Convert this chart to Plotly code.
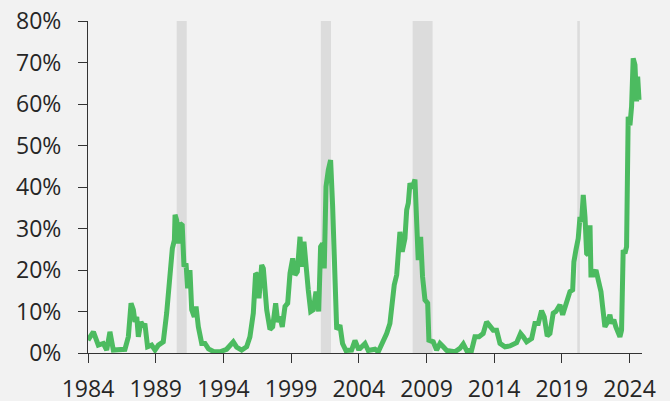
import plotly.graph_objects as go

# Decimal year positions and values (%)
years = [1984.0, 1984.4, 1984.76, 1985.13, 1985.38, 1985.62, 1985.87, 1986.24, 1986.73, 1986.98,
         1987.18, 1987.35, 1987.47, 1987.6, 1987.72, 1987.91, 1988.09, 1988.2, 1988.4, 1988.7,
         1988.95, 1989.2, 1989.56, 1989.81, 1990.06, 1990.23, 1990.38, 1990.43, 1990.55, 1990.67,
         1990.8, 1990.96, 1991.09, 1991.24, 1991.36, 1991.53, 1991.66, 1991.85, 1991.98, 1992.15,
         1992.4, 1992.64, 1992.9, 1993.3, 1993.75, 1994.24, 1994.73, 1994.98, 1995.35, 1995.72,
         1995.96, 1996.21, 1996.38, 1996.53, 1996.63, 1996.83, 1996.95, 1997.2, 1997.44, 1997.64,
         1997.86, 1998.01, 1998.18, 1998.35, 1998.55, 1998.75, 1998.92, 1999.12, 1999.29, 1999.46,
         1999.66, 1999.78, 1999.95, 2000.1, 2000.27, 2000.45, 2000.64, 2000.84, 2001.04, 2001.18,
         2001.33, 2001.45, 2001.58, 2001.75, 2001.92, 2002.07, 2002.24, 2002.37, 2002.61, 2002.8,
         2003.05, 2003.47, 2003.72, 2003.96, 2004.09, 2004.46, 2004.7, 2005.2, 2005.44, 2005.69,
         2006.06, 2006.3, 2006.43, 2006.62, 2006.8, 2006.92, 2007.04, 2007.21, 2007.41, 2007.54,
         2007.66, 2007.78, 2007.95, 2008.15, 2008.27, 2008.39, 2008.57, 2008.71, 2008.89, 2009.09,
         2009.18, 2009.5, 2009.75, 2010.0, 2010.24, 2010.49, 2011.1, 2011.47, 2011.72, 2011.97,
         2012.33, 2012.58, 2012.88, 2013.19, 2013.44, 2013.69, 2013.93, 2014.18, 2014.43, 2014.8,
         2015.17, 2015.66, 2015.95, 2016.15, 2016.4, 2016.77, 2017.01, 2017.26, 2017.5, 2017.7,
         2017.92, 2018.12, 2018.36, 2018.56, 2018.86, 2019.06, 2019.23, 2019.47, 2019.6, 2019.8,
         2019.89, 2020.04, 2020.21, 2020.34, 2020.46, 2020.58, 2020.71, 2020.83, 2020.95, 2021.08,
         2021.15, 2021.32, 2021.52, 2021.69, 2021.89, 2022.01, 2022.18, 2022.35, 2022.55, 2022.67,
         2022.84, 2022.99, 2023.16, 2023.29, 2023.41, 2023.53, 2023.66, 2023.78, 2023.9, 2024.03,
         2024.15, 2024.27, 2024.4, 2024.52, 2024.6, 2024.7]
values = [3.1, 5.1, 1.9, 2.3, 0.7, 5.1, 0.7, 0.7, 0.9, 3.9,
          12.0, 10.4, 7.5, 8.7, 3.9, 7.5, 6.3, 7.1, 1.5, 1.9,
          0.7, 1.9, 2.7, 9.6, 20.8, 25.2, 27.2, 33.3, 32.0, 26.4,
          31.2, 30.8, 20.8, 21.6, 15.6, 20.0, 10.4, 8.7, 11.2, 6.3,
          2.3, 2.3, 1.0, 0.3, 0.3, 0.9, 2.7, 1.4, 0.7, 1.5,
          3.9, 9.6, 19.2, 18.8, 13.2, 21.2, 20.4, 10.4, 5.7, 6.3,
          12.0, 7.5, 8.7, 6.3, 11.2, 12.0, 19.2, 22.8, 18.8, 19.6,
          28.0, 20.8, 26.8, 19.2, 15.2, 10.0, 10.4, 14.8, 10.0, 25.6,
          26.4, 20.4, 40.1, 44.1, 46.5, 35.3, 19.2, 5.7, 6.7, 2.3,
          0.6, 0.7, 3.0, 1.1, 1.1, 2.3, 0.6, 0.9, 0.3, 1.9,
          4.7, 7.1, 12.0, 16.4, 18.8, 27.2, 29.2, 24.4, 27.6, 34.5,
          36.1, 40.9, 39.7, 41.8, 34.5, 22.4, 28.0, 18.4, 12.8, 12.0,
          3.1, 2.7, 0.7, 2.3, 1.5, 0.6, 0.3, 1.1, 2.2, 0.6,
          0.6, 3.9, 3.9, 4.7, 7.5, 6.3, 5.5, 5.5, 2.3, 1.5,
          1.7, 2.5, 4.7, 3.9, 2.7, 3.5, 7.1, 7.1, 10.2, 8.7,
          4.1, 4.7, 9.6, 10.0, 11.6, 9.2, 11.2, 13.6, 14.8, 15.2,
          22.0, 24.8, 27.6, 32.8, 31.6, 38.1, 32.8, 24.0, 23.6, 30.8,
          18.8, 18.8, 20.0, 17.6, 14.8, 11.2, 6.3, 7.3, 9.2, 7.1,
          8.0, 6.3, 4.7, 3.9, 5.5, 24.8, 24.0, 25.6, 56.9, 54.9,
          59.4, 71.0, 69.4, 60.6, 66.6, 61.0]

# Recession periods (shaded)
rec_start = [1990.55, 2001.2, 2007.98, 2020.14]
rec_end = [1991.29, 2001.95, 2009.45, 2020.33]

x_ticks = [1984, 1989, 1994, 1999, 2004, 2009, 2014, 2019, 2024]
y_ticks = [0, 10, 20, 30, 40, 50, 60, 70, 80]

fig = go.Figure()
fig.add_trace(go.Scatter(x=years, y=values, mode="lines",
                         line=dict(color="#4cbb60", width=5),
                         hoverinfo="skip", showlegend=False))

for s, e in zip(rec_start, rec_end):
    fig.add_shape(type="rect", xref="x", yref="paper", x0=s, x1=e, y0=0, y1=1,
                  fillcolor="#dcdcdc", line=dict(width=0), layer="below")

font_family = "Open Sans, Noto Sans, sans-serif"
fig.update_layout(
    width=670, height=401,
    margin=dict(l=88, r=28, t=21, b=48, autoexpand=False),
    paper_bgcolor="#f2f2f2", plot_bgcolor="#f2f2f2",
    font=dict(family=font_family, size=23, color="#262626"),
    showlegend=False,
)
fig.update_xaxes(range=[1984, 2024.92], tickvals=x_ticks, ticktext=[str(t) for t in x_ticks],
                 showgrid=False, zeroline=False, showline=True, linecolor="#333333", linewidth=1,
                 ticks="outside", ticklen=9, tickcolor="#333333", tickwidth=1,
                 tickfont=dict(size=23), ticklabelstandoff=6, automargin=False)
fig.update_yaxes(range=[0, 80], tickvals=y_ticks, ticktext=[f"{t}%" for t in y_ticks],
                 showgrid=False, zeroline=False, showline=True, linecolor="#333333", linewidth=1,
                 ticks="outside", ticklen=9, tickcolor="#333333", tickwidth=1,
                 tickfont=dict(size=23), ticklabelstandoff=12, automargin=False)

fig.write_html(
    "out.html",
    config={"displayModeBar": False},
    post_script="document.body.style.margin='0';document.body.style.background='#f2f2f2';",
)
